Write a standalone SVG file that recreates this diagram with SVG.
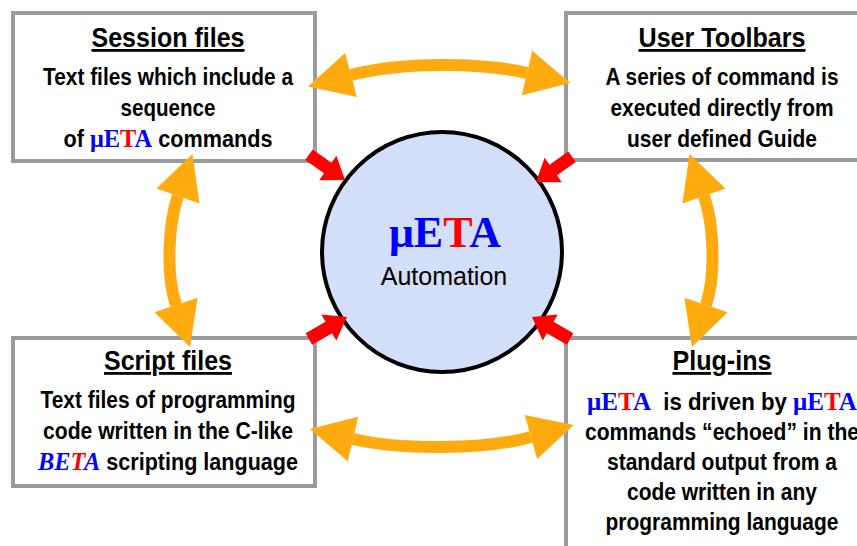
<svg xmlns="http://www.w3.org/2000/svg" width="857" height="546" viewBox="0 0 857 546">
<style>
.box{fill:#fff;stroke:#9b9b9b;stroke-width:4}
.t{font-family:"Liberation Sans",Arial,sans-serif;font-weight:bold;font-size:28px;text-anchor:middle;fill:#000;text-decoration:underline}
.b{font-family:"Liberation Sans",Arial,sans-serif;font-weight:bold;font-size:23px;text-anchor:middle;fill:#000}
.tm{font-family:"Liberation Serif","Times New Roman",serif;font-weight:bold;font-size:26px}
.bl{fill:#0000ff}
.rd{fill:#ff0000}
.oa{fill:none;stroke:#ffab10;stroke-width:12}
.ra{fill:#ff0000}
</style>
<defs>
<marker id="oh" markerUnits="userSpaceOnUse" markerWidth="60" markerHeight="60" refX="0" refY="0" viewBox="-5 -25 50 50" orient="auto-start-reverse" overflow="visible">
<path d="M0,-19 L37,0 L0,19 z" fill="#ffab10"/>
</marker>
<path id="red" d="M-44,-6.5 L-21,-6.5 L-21,-15 L0,0 L-21,15 L-21,6.5 L-44,6.5 z"/>
</defs>
<rect width="857" height="546" fill="#fff"/>
<g id="session-files">
<rect class="box" x="13" y="13" width="302" height="148"/>
<text class="t" x="168" y="47" textLength="153" lengthAdjust="spacingAndGlyphs">Session files</text>
<text class="b" x="168" y="85" textLength="250" lengthAdjust="spacingAndGlyphs">Text files which include a</text>
<text class="b" x="168" y="116" textLength="95" lengthAdjust="spacingAndGlyphs">sequence</text>
<text class="b" x="168" y="147" textLength="209" lengthAdjust="spacingAndGlyphs">of <tspan class="tm bl">μE</tspan><tspan class="tm rd">T</tspan><tspan class="tm bl">A</tspan> commands</text>
</g>
<g id="user-toolbars">
<rect class="box" x="566" y="13" width="300" height="147"/>
<text class="t" x="722" y="47" textLength="167" lengthAdjust="spacingAndGlyphs">User Toolbars</text>
<text class="b" x="722" y="85" textLength="233" lengthAdjust="spacingAndGlyphs">A series of command is</text>
<text class="b" x="722" y="116" textLength="223" lengthAdjust="spacingAndGlyphs">executed directly from</text>
<text class="b" x="722" y="147" textLength="190" lengthAdjust="spacingAndGlyphs">user defined Guide</text>
</g>
<g id="script-files">
<rect class="box" x="13" y="338" width="302" height="148"/>
<text class="t" x="168" y="370" textLength="128" lengthAdjust="spacingAndGlyphs">Script files</text>
<text class="b" x="168" y="408" textLength="255" lengthAdjust="spacingAndGlyphs">Text files of programming</text>
<text class="b" x="168" y="439" textLength="250" lengthAdjust="spacingAndGlyphs">code written in the C-like</text>
<text class="b" x="168" y="470" textLength="260" lengthAdjust="spacingAndGlyphs"><tspan class="tm bl" font-style="italic">BE</tspan><tspan class="tm rd" font-style="italic">T</tspan><tspan class="tm bl" font-style="italic">A</tspan> scripting language</text>
</g>
<g id="plug-ins">
<rect class="box" x="566" y="338" width="300" height="220"/>
<text class="t" x="722" y="370" textLength="99" lengthAdjust="spacingAndGlyphs">Plug-ins</text>
<text class="b" x="722" y="410" textLength="270" lengthAdjust="spacingAndGlyphs" xml:space="preserve"><tspan class="tm bl">μE</tspan><tspan class="tm rd">T</tspan><tspan class="tm bl">A</tspan>  is driven by <tspan class="tm bl">μE</tspan><tspan class="tm rd">T</tspan><tspan class="tm bl">A</tspan></text>
<text class="b" x="722" y="440" textLength="274" lengthAdjust="spacingAndGlyphs">commands “echoed” in the</text>
<text class="b" x="722" y="470" textLength="230" lengthAdjust="spacingAndGlyphs">standard output from a</text>
<text class="b" x="722" y="500" textLength="190" lengthAdjust="spacingAndGlyphs">code written in any</text>
<text class="b" x="722" y="530" textLength="233" lengthAdjust="spacingAndGlyphs">programming language</text>
</g>
<g id="automation">
<circle cx="442" cy="252" r="120" fill="#d3def8" stroke="#000" stroke-width="4"/>
<text x="445" y="247" text-anchor="middle" font-family="'Liberation Serif','Times New Roman',serif" font-weight="bold" font-size="44"><tspan fill="#0000ff">μE</tspan><tspan fill="#ff0000">T</tspan><tspan fill="#0000ff">A</tspan></text>
<text x="444" y="285" text-anchor="middle" font-family="'Liberation Sans',Arial,sans-serif" font-size="25" fill="#000">Automation</text>
</g>
<g id="connectors">
<path class="oa" d="M351,75 C400,62 480,62 527,73" marker-start="url(#oh)" marker-end="url(#oh)"/>
<path class="oa" d="M353,439 C400,450 485,450 531,437" marker-start="url(#oh)" marker-end="url(#oh)"/>
<path class="oa" d="M178,196 C168,225 166,275 176,305" marker-start="url(#oh)" marker-end="url(#oh)"/>
<path class="oa" d="M704,196 C714,225 716,275 706,305" marker-start="url(#oh)" marker-end="url(#oh)"/>
<use href="#red" class="ra" transform="translate(345,180) rotate(35)"/>
<use href="#red" class="ra" transform="translate(536,182) rotate(145)"/>
<use href="#red" class="ra" transform="translate(347,317) rotate(-30)"/>
<use href="#red" class="ra" transform="translate(532,317) rotate(210)"/>
</g>
</svg>
